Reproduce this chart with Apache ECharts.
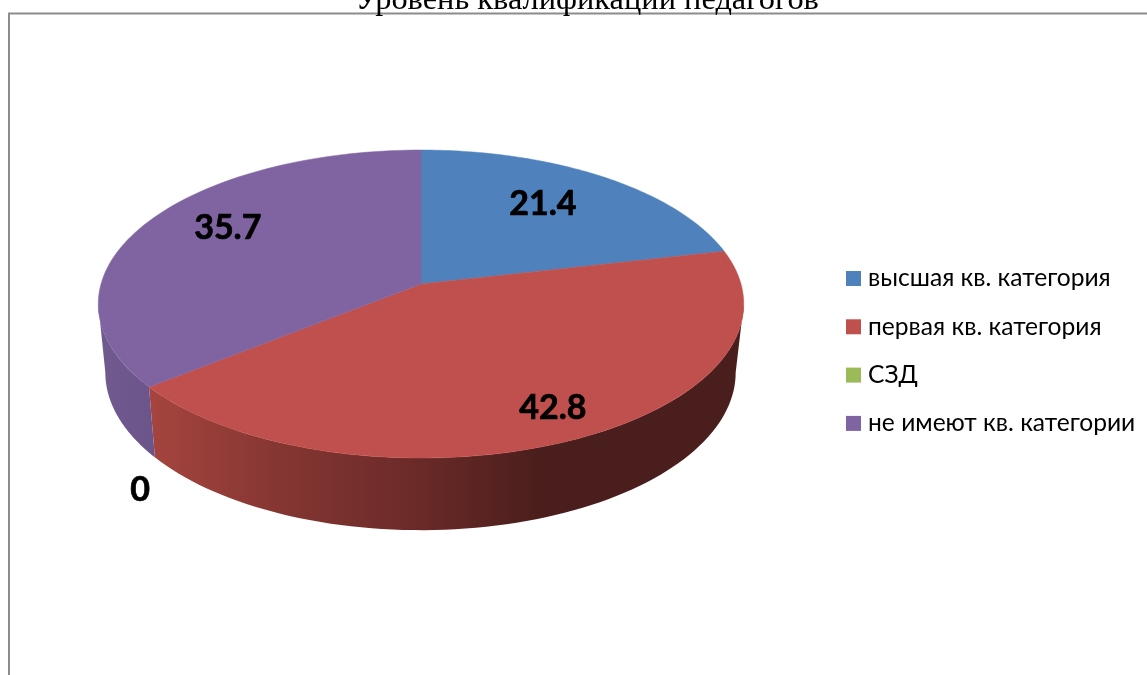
<!DOCTYPE html>
<html><head><meta charset="utf-8">
<style>html,body{margin:0;padding:0;background:#fff}#c{width:1147px;height:675px}</style>
<script src="https://cdn.jsdelivr.net/npm/echarts@6/dist/echarts.min.js"></script>
</head><body><div id="c"></div>
<script>
const categories = ['высшая кв. категория','первая кв. категория','СЗД','не имеют кв. категории'];
const values = [21.4, 42.8, 0, 35.7];
const colors = ['#4f81bd','#c0504d','#9bbb59','#8064a2'];
const labelTexts = ['21.4','42.8','0','35.7'];

// view settings
const persp = 0.13, steps = 80;
const topFace = {cx:421, cy:284, rx:320, ry:151.4};
const baseFace = {cx:420.5, cy:352, rx:312.5, ry:155};
const labelPlace = [
  {r:0.68, dx:-5, dy:-5}, {r:0.83, dx:4, dy:-1},
  {r:1, dx:-9, dy:103}, {r:0.70, dx:1, dy:-12}
];
const frontFrom = Math.acos(-persp), frontTo = 2*Math.PI - frontFrom;
function project(f, t, r){
  const u = r*Math.sin(t), v = r*Math.cos(t), d = 1 + persp*v;
  return [f.cx + f.rx*u/d, f.cy - f.ry*v/d];
}
const total = values.reduce((a,b)=>a+b,0);
const starts = []; values.reduce((a,b,i)=>(starts[i]=a, a+b),0);
function arc(f, a, b){
  const p = [];
  for(let i=0;i<=steps;i++) p.push(project(f, a+(b-a)*i/steps, 1));
  return p;
}
const sideFill = [
  '#3a5f8a',
  {type:'linear',global:true,x:150,y:0,x2:540,y2:0,colorStops:[
    {offset:0,color:'#a6443f'},{offset:0.33,color:'#853632'},{offset:0.69,color:'#6a2a28'},{offset:1,color:'#4a1e1c'}]},
  '#76923c',
  {type:'linear',global:true,x:100,y:0,x2:155,y2:0,colorStops:[{offset:0,color:'#705a8e'},{offset:1,color:'#6a548a'}]}
];
function renderFor(i){
  return function(params, api){
    const val = api.value(0);
    const a = starts[i]/total*2*Math.PI, b = (starts[i]+val)/total*2*Math.PI;
    const children = [];
    const place = labelPlace[i], mid=(a+b)/2, lp = project(topFace, mid, place.r);
    if(val>0){
      const fa = Math.max(a,frontFrom), fb = Math.min(b,frontTo);
      if(fa<fb){
        children.push({type:'polygon',z2:1,shape:{points:arc(topFace,fa,fb).concat(arc(baseFace,fa,fb).reverse())},
          style:{fill:sideFill[i]}});
      }
      children.push({type:'polygon',z2:5,shape:{points:[[topFace.cx,topFace.cy]].concat(arc(topFace,a,b))},
        style:{fill:colors[i],stroke:colors[i],lineWidth:0.5}});
    }
    children.push({type:'text',z2:10,x:lp[0]+place.dx,y:lp[1]+place.dy,
      style:{text:labelTexts[i],fill:'#000',stroke:'#000',lineWidth:0.7,font:'bold 34px Lato, "Open Sans"',align:'center',verticalAlign:'middle'}});
    return {type:'group',children};
  };
}
const chart = echarts.init(document.getElementById('c'),null,{renderer:'canvas'});
chart.setOption({
  animation:false,
  backgroundColor:'#fff',
  title:{text:'Уровень квалификации педагогов',left:587,top:-15.5,textAlign:'center',padding:0,
    textStyle:{fontFamily:'Liberation Serif',fontWeight:'normal',fontSize:32.4,color:'#000'}},
  legend:{orient:'vertical',left:846,top:266,padding:0,icon:'rect',itemWidth:15,itemHeight:15,itemGap:23.3,
    data:categories,selectedMode:false,
    textStyle:{fontFamily:'Lato, "Open Sans"',fontSize:24.6,lineHeight:23,color:'#000',padding:[0,0,0,2]}},
  graphic:[{type:'polyline',silent:true,z:0,shape:{points:[[9,675],[9,13.5],[1147,13.5]]},
    style:{stroke:'#8c8c8c',lineWidth:2,fill:null}}],
  series:categories.map((name,i)=>({
    type:'custom',name,coordinateSystem:'none',silent:true,
    itemStyle:{color:colors[i]},
    renderItem:renderFor(i),data:[[values[i]]]
  }))
});
</script></body></html>
